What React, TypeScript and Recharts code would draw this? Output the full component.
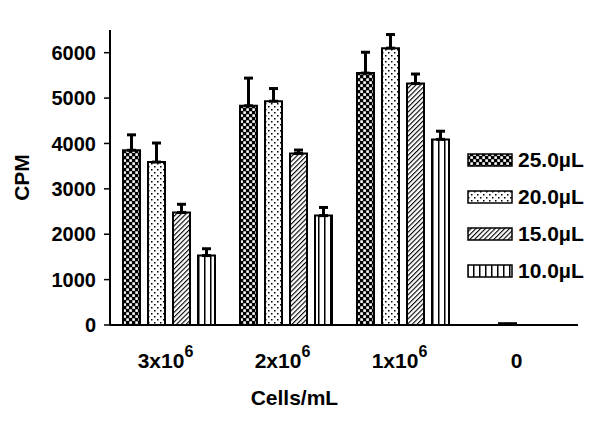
import React from "react";
import { BarChart, Bar, XAxis, YAxis, ErrorBar, Legend } from "recharts";

const cells = ["3x10^6", "2x10^6", "1x10^6", "0"];
const cpm25 = [3850, 4830, 5550, 0];
const err25 = [340, 610, 460, null];
const cpm20 = [3590, 4930, 6100, 40];
const err20 = [420, 280, 300, null];
const cpm15 = [2480, 3780, 5320, 0];
const err15 = [180, 75, 210, null];
const cpm10 = [1530, 2410, 4090, 0];
const err10 = [150, 180, 180, null];
const yTicks = [0, 1000, 2000, 3000, 4000, 5000, 6000];

const FONT = "'Liberation Sans', Arial, sans-serif";

const upOnly = (e: number | null) => (e == null ? null : [0, e]);

const data = cells.map((c, i) => ({
  cells: c,
  v25: cpm25[i],
  e25: upOnly(err25[i]),
  v20: cpm20[i],
  e20: upOnly(err20[i]),
  v15: cpm15[i],
  e15: upOnly(err15[i]),
  v10: cpm10[i],
  e10: upOnly(err10[i]),
}));

const series = [
  { key: "v25", err: "e25", name: "25.0µL", pat: "check" },
  { key: "v20", err: "e20", name: "20.0µL", pat: "dots" },
  { key: "v15", err: "e15", name: "15.0µL", pat: "diag" },
  { key: "v10", err: "e10", name: "10.0µL", pat: "vert" },
];

function Patterns({ prefix }: { prefix: string }) {
  return (
    <defs>
      <pattern id={prefix + "check"} width="6" height="6" patternUnits="userSpaceOnUse">
        <rect width="6" height="6" fill="#000" />
        <rect x="0.3" y="0.3" width="2.6" height="2.6" fill="#fff" />
        <rect x="3.3" y="3.3" width="2.6" height="2.6" fill="#fff" />
      </pattern>
      <pattern id={prefix + "dots"} width="6" height="6" patternUnits="userSpaceOnUse">
        <rect width="6" height="6" fill="#fff" />
        <rect x="1" y="1" width="1.5" height="1.5" fill="#000" />
        <rect x="4" y="4" width="1.5" height="1.5" fill="#000" />
      </pattern>
      <pattern
        id={prefix + "diag"}
        width="3.4"
        height="10"
        patternUnits="userSpaceOnUse"
        patternTransform="rotate(45)"
      >
        <rect width="3.4" height="10" fill="#fff" />
        <rect x="0" y="0" width="1.1" height="10" fill="#000" />
      </pattern>
      <pattern id={prefix + "vert"} width="6" height="6" patternUnits="userSpaceOnUse">
        <rect width="6" height="6" fill="#fff" />
        <rect x="0" y="0" width="1.5" height="6" fill="#000" />
      </pattern>
    </defs>
  );
}

function CellTick({ x, y, payload }: any) {
  const [base, sup] = String(payload.value).split("^");
  return (
    <text
      x={x - 3}
      y={y + 43}
      textAnchor="middle"
      fontSize={21}
      fontWeight="bold"
      fontFamily={FONT}
      fill="#000"
    >
      <tspan>{base}</tspan>
      {sup && (
        <tspan dy={-11} fontSize={16}>
          {sup}
        </tspan>
      )}
    </text>
  );
}

function PatternLegend() {
  return (
    <div style={{ fontFamily: FONT }}>
      {series.map((s) => (
        <div
          key={s.key}
          style={{ display: "flex", alignItems: "center", height: 37 }}
        >
          <svg width={46} height={14} style={{ display: "block" }}>
            <Patterns prefix={"lg-" + s.key + "-"} />
            <rect
              x={1}
              y={1}
              width={44}
              height={12}
              fill={`url(#lg-${s.key}-${s.pat})`}
              stroke="#000"
              strokeWidth={1.5}
            />
          </svg>
          <span
            style={{
              marginLeft: 5,
              fontSize: 21,
              fontWeight: "bold",
              color: "#000",
            }}
          >
            {s.name}
          </span>
        </div>
      ))}
    </div>
  );
}

export default function App() {
  return (
    <div style={{ position: "absolute", left: 0, top: 0, width: 600, height: 423, background: "#fff" }}>
      <BarChart
        width={600}
        height={423}
        data={data}
        margin={{ top: 30, right: 22, left: 0, bottom: 38 }}
        barSize={17}
        barGap={8}
      >
        <Patterns prefix="" />
        <XAxis
          dataKey="cells"
          height={60}
          tickLine={false}
          tickSize={0}
          tickMargin={0}
          axisLine={{ stroke: "#000", strokeWidth: 2 }}
          tick={<CellTick />}
          interval={0}
          label={{
            content: ({ viewBox }: any) => (
              <text
                x={viewBox.x + viewBox.width * 0.394}
                y={405}
                textAnchor="middle"
                fontSize={21}
                fontWeight="bold"
                fontFamily={FONT}
                fill="#000"
              >
                Cells/mL
              </text>
            ),
          }}
        />
        <YAxis
          width={110}
          domain={[0, 6500]}
          ticks={yTicks}
          interval={0}
          tickSize={6}
          tickMargin={8}
          axisLine={{ stroke: "#000", strokeWidth: 2 }}
          tickLine={{ stroke: "#000", strokeWidth: 1.5 }}
          tick={{ fill: "#000", fontSize: 20, fontWeight: "bold", fontFamily: FONT }}
          label={{
            content: ({ viewBox }: any) => {
              const cy = viewBox.y + viewBox.height / 2;
              return (
                <text
                  x={29}
                  y={cy}
                  transform={`rotate(-90, 29, ${cy})`}
                  textAnchor="middle"
                  fontSize={21}
                  fontWeight="bold"
                  fontFamily={FONT}
                  fill="#000"
                >
                  CPM
                </text>
              );
            },
          }}
        />
        <Legend
          layout="vertical"
          align="center"
          verticalAlign="middle"
          wrapperStyle={{ position: "absolute", left: 467, top: 141, width: 133 }}
          content={() => <PatternLegend />}
        />
        {series.map((s) => (
          <Bar
            key={s.key}
            dataKey={s.key}
            name={s.name}
            fill={`url(#${s.pat})`}
            stroke="#000"
            strokeWidth={2}
            isAnimationActive={false}
          >
            <ErrorBar
              dataKey={s.err}
              direction="y"
              width={4.5}
              stroke="#000"
              strokeWidth={3}
              isAnimationActive={false}
            />
          </Bar>
        ))}
      </BarChart>
    </div>
  );
}
